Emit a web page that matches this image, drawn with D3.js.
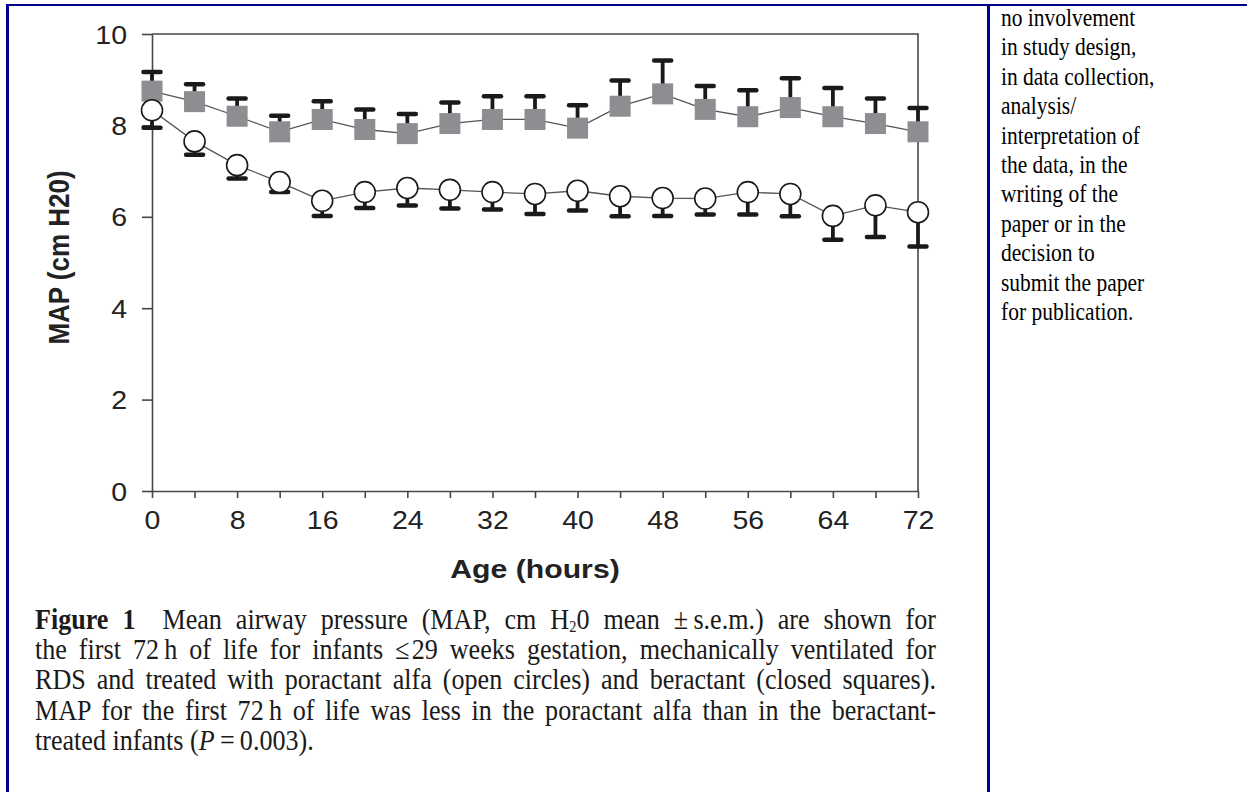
<!DOCTYPE html>
<html>
<head>
<meta charset="utf-8">
<script src="https://cdn.jsdelivr.net/npm/d3@7"></script>
<style>
  html, body { margin: 0; padding: 0; background: #fff; }
  svg { display: block; }
</style>
</head>
<body>
<svg id="fig" width="1247" height="792"></svg>
<script>
// Messzeitpunkte (Stunden) und Mittelwerte +/- s.e.m.
const hours = [0, 4, 8, 12, 16, 20, 24, 28, 32, 36, 40, 44, 48, 52, 56, 60, 64, 68, 72];
const poractant = [8.33, 7.65, 7.13, 6.76, 6.35, 6.54, 6.63, 6.59, 6.54, 6.50, 6.57, 6.45, 6.41, 6.40, 6.54, 6.50, 6.02, 6.25, 6.10];
const poractantSem = [0.38, 0.29, 0.29, 0.22, 0.33, 0.35, 0.38, 0.41, 0.38, 0.44, 0.43, 0.44, 0.39, 0.35, 0.49, 0.49, 0.52, 0.69, 0.75];
const beractant = [8.75, 8.52, 8.20, 7.86, 8.13, 7.91, 7.82, 8.04, 8.13, 8.13, 7.94, 8.42, 8.69, 8.35, 8.19, 8.39, 8.19, 8.04, 7.86];
const beractantSem = [0.42, 0.38, 0.39, 0.35, 0.40, 0.44, 0.43, 0.46, 0.51, 0.51, 0.50, 0.56, 0.73, 0.51, 0.58, 0.64, 0.63, 0.55, 0.52];

const xTicks = [0, 4, 8, 12, 16, 20, 24, 28, 32, 36, 40, 44, 48, 52, 56, 60, 64, 68, 72];
const yTicks = [0, 2, 4, 6, 8, 10];

const captionLines = [
  "Mean airway pressure (MAP, cm H|2|0 mean \u00b1\u2009s.e.m.) are shown for",
  "the first 72\u2009h of life for infants \u2264\u200a29 weeks gestation, mechanically ventilated for",
  "RDS and treated with poractant alfa (open circles) and beractant (closed squares).",
  "MAP for the first 72\u2009h of life was less in the poractant alfa than in the beractant-",
  "treated infants ("
];
const sideLines = [
  "no involvement", "in study design,", "in data collection,", "analysis/",
  "interpretation of", "the data, in the", "writing of the", "paper or in the",
  "decision to", "submit the paper", "for publication."
];

const svg = d3.select("#fig");
const stretch = 1.14; // Abbildung ist im Original leicht in die Breite gezogen
const axisColor = "#474747";
const ink = "#222";

// Rahmen der Tabellenzelle
const frame = svg.append("g").attr("stroke", "#00008b").attr("fill", "none");
frame.append("line").attr("x1", 7).attr("x2", 1247).attr("y1", 5).attr("y2", 5).attr("stroke-width", 2);
frame.append("line").attr("x1", 7.5).attr("x2", 7.5).attr("y1", 4).attr("y2", 792).attr("stroke-width", 3);
frame.append("line").attr("x1", 988.5).attr("x2", 988.5).attr("y1", 4).attr("y2", 792).attr("stroke-width", 3);

const x = d3.scaleLinear().domain([0, 72]).range([152, 918]);
const y = d3.scaleLinear().domain([0, 10]).range([491, 34]);

// Achsen
const gx = svg.append("g")
  .attr("transform", `translate(0,${y(0)})`)
  .call(d3.axisBottom(x).tickValues(xTicks).tickSize(7).tickSizeOuter(0)
    .tickFormat(d => (d % 8 === 0 ? d : "")));
const gy = svg.append("g")
  .attr("transform", `translate(${x(0)},0)`)
  .call(d3.axisLeft(y).tickValues(yTicks).tickSize(10).tickSizeOuter(0));

[gx, gy].forEach(g => {
  g.select(".domain").attr("stroke", axisColor).attr("stroke-width", 1.6);
  g.selectAll(".tick line").attr("stroke", axisColor).attr("stroke-width", 1.6);
  g.selectAll(".tick text")
    .attr("fill", ink)
    .attr("font-family", "'Liberation Sans', Arial, sans-serif")
    .attr("font-size", 25);
});
gx.selectAll(".tick text").attr("y", 0).attr("dy", null)
  .attr("transform", `translate(0,38) scale(${stretch},1)`);
gy.selectAll(".tick text").attr("x", 0).attr("dy", null)
  .attr("transform", `translate(-25,9) scale(${stretch},1)`);

// obere und rechte Begrenzung des Diagramms
svg.append("path")
  .attr("fill", "none").attr("stroke", axisColor).attr("stroke-width", 1.6)
  .attr("d", `M${x(0)},${y(10)} H${x(72)} V${y(0)}`);

// Achsentitel
svg.append("text")
  .attr("transform", `translate(${x(36)},578) scale(${stretch},1)`)
  .attr("text-anchor", "middle")
  .attr("font-family", "'Liberation Sans', Arial, sans-serif")
  .attr("font-weight", "bold").attr("font-size", 26.5).attr("fill", ink)
  .text("Age (hours)");
svg.append("text")
  .attr("transform", `translate(69,${(y(0) + y(10)) / 2 - 5}) scale(${stretch},1) rotate(-90)`)
  .attr("text-anchor", "middle")
  .attr("font-family", "'Liberation Sans', Arial, sans-serif")
  .attr("font-weight", "bold").attr("font-size", 26).attr("fill", ink)
  .text("MAP (cm H20)");

// Verbindungslinien
const line = d3.line().x(d => x(d[0])).y(d => y(d[1]));
const plot = svg.append("g");
const series = [
  { mean: beractant, sem: beractantSem, dir: 1 },
  { mean: poractant, sem: poractantSem, dir: -1 }
];
series.forEach(s => {
  plot.append("path")
    .datum(hours.map((h, i) => [h, s.mean[i]]))
    .attr("fill", "none").attr("stroke", "#555").attr("stroke-width", 1.3)
    .attr("d", line);
});

// Fehlerbalken (nur einseitig: Quadrate nach oben, Kreise nach unten)
series.forEach(s => {
  const eb = plot.append("g").attr("stroke", "#1a1a1a").attr("stroke-linecap", "round");
  hours.forEach((h, i) => {
    const end = s.mean[i] + s.dir * s.sem[i];
    eb.append("line")
      .attr("x1", x(h)).attr("x2", x(h))
      .attr("y1", y(s.mean[i])).attr("y2", y(end))
      .attr("stroke-width", 3.8).attr("stroke-linecap", "butt");
    eb.append("line")
      .attr("x1", x(h) - 8.5).attr("x2", x(h) + 8.5)
      .attr("y1", y(end)).attr("y2", y(end))
      .attr("stroke-width", 4.5);
  });
});

// Marker
plot.append("g").selectAll("rect")
  .data(hours)
  .join("rect")
  .attr("x", (d) => x(d) - 10.5)
  .attr("y", (d, i) => y(beractant[i]) - 10.5)
  .attr("width", 21).attr("height", 21)
  .attr("fill", "#8d8e91");
plot.append("g").selectAll("circle")
  .data(hours)
  .join("circle")
  .attr("cx", (d) => x(d))
  .attr("cy", (d, i) => y(poractant[i]))
  .attr("r", 10.5)
  .attr("fill", "#fff").attr("stroke", "#1a1a1a").attr("stroke-width", 1.6);

// Bildunterschrift (schmale, hohe Serifenschrift -> horizontal gestaucht)
const capLeft = 35, capRight = 936, capSquash = 0.9;
const cap = svg.append("g")
  .attr("font-family", "'Liberation Serif', 'Times New Roman', serif")
  .attr("font-size", 29).attr("fill", "#1a1a1a");
captionLines.forEach((txt, i) => {
  const t = cap.append("text")
    .attr("transform", `translate(${capLeft},${629 + i * 30.2}) scale(${capSquash},1)`);
  if (i === 0) {
    t.append("tspan").attr("font-weight", "bold").text("Figure 1");
    t.append("tspan").text("\u2002 ");
    const parts = txt.split("|");
    t.append("tspan").text(parts[0]);
    t.append("tspan").attr("font-size", 16).attr("baseline-shift", "-3").text(parts[1]);
    t.append("tspan").text(parts[2]);
  } else if (i === 4) {
    t.append("tspan").text(txt);
    t.append("tspan").attr("font-style", "italic").text("P");
    t.append("tspan").text("\u2009=\u20090.003).");
  } else {
    t.text(txt);
  }
  if (i < 4) {
    // Blocksatz
    const w = t.node().getComputedTextLength();
    const gaps = (t.text().match(/ /g) || []).length;
    const target = (capRight - capLeft) / capSquash;
    if (w < target) t.attr("word-spacing", (target - w) / gaps);
    else t.attr("textLength", target).attr("lengthAdjust", "spacingAndGlyphs");
  }
});

// Text in der rechten Spalte
const side = svg.append("g")
  .attr("font-family", "'Liberation Serif', 'Times New Roman', serif")
  .attr("font-size", 25).attr("fill", "#000");
side.selectAll("text")
  .data(sideLines)
  .join("text")
  .attr("transform", (d, i) => `translate(1001,${26 + i * 29.4}) scale(0.86,1)`)
  .text(d => d);
</script>
</body>
</html>
